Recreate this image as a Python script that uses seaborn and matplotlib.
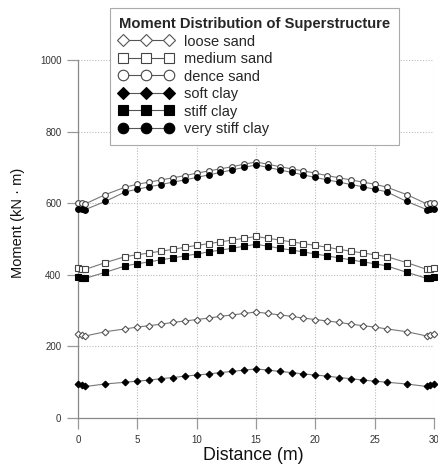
import matplotlib
matplotlib.use("Agg")
import matplotlib.pyplot as plt
import seaborn as sns
import numpy as np

distance = [0, 0.3, 0.6, 2.3, 4, 5, 6, 7, 8, 9, 10, 11, 12, 13, 14, 15,
            16, 17, 18, 19, 20, 21, 22, 23, 24, 25, 26, 27.7, 29.4, 29.7, 30]

loose_sand = [234, 231, 229, 241, 249, 254, 258, 262, 267, 271, 275, 279, 284, 288, 292, 296,
              292, 288, 284, 279, 275, 271, 267, 262, 258, 254, 249, 241, 229, 231, 234]
medium_sand = [419, 417, 415, 434, 451, 456, 461, 466, 471, 477, 482, 487, 492, 497, 502, 507,
               502, 497, 492, 487, 482, 477, 471, 466, 461, 456, 451, 434, 415, 417, 419]
dence_sand = [601, 600, 598, 624, 645, 653, 659, 665, 671, 677, 684, 690, 696, 702, 709, 715,
              709, 702, 696, 690, 684, 677, 671, 665, 659, 653, 645, 624, 598, 600, 601]
soft_clay = [94, 91, 88, 95, 100, 103, 106, 110, 113, 117, 120, 123, 127, 130, 134, 137,
             134, 130, 127, 123, 120, 117, 113, 110, 106, 103, 100, 95, 88, 91, 94]
stiff_clay = [393, 391, 390, 407, 425, 431, 436, 442, 447, 453, 458, 464, 469, 474, 480, 485,
              480, 474, 469, 464, 458, 453, 447, 442, 436, 431, 425, 407, 390, 391, 393]
very_stiff_clay = [585, 583, 582, 605, 632, 639, 646, 652, 659, 665, 672, 679, 686, 693, 700, 707,
                   700, 693, 686, 679, 672, 665, 659, 652, 646, 639, 632, 605, 582, 583, 585]

series_names = ["loose sand", "medium sand", "dence sand", "soft clay", "stiff clay", "very stiff clay"]
series_values = [loose_sand, medium_sand, dence_sand, soft_clay, stiff_clay, very_stiff_clay]
x_ticks = [0, 5, 10, 15, 20, 25, 30]
y_ticks = [0, 200, 400, 600, 800, 1000]

sns.set_theme(style="white")
plt.rcParams['font.family'] = ['Liberation Sans', 'DejaVu Sans']

fig = plt.figure(figsize=(4.39, 4.66), dpi=100)
ax = fig.add_axes([78 / 439, 48 / 466, (434 - 78) / 439, (418 - 60) / 466])

styles = [
    dict(marker="D", markerfacecolor="white", markeredgecolor="#555555", markersize=3.4),
    dict(marker="s", markerfacecolor="white", markeredgecolor="#444444", markersize=3.8),
    dict(marker="o", markerfacecolor="white", markeredgecolor="#444444", markersize=4.1),
    dict(marker="D", markerfacecolor="black", markeredgecolor="black", markersize=3.4),
    dict(marker="s", markerfacecolor="black", markeredgecolor="black", markersize=3.8),
    dict(marker="o", markerfacecolor="black", markeredgecolor="black", markersize=4.1),
]

for name, vals, st in zip(series_names, series_values, styles):
    sns.lineplot(x=distance, y=vals, ax=ax, color="#777777", linewidth=0.8,
                 markeredgewidth=0.8, clip_on=False, label=name, zorder=3, **st)

ax.set_xlim(0, 30)
ax.set_ylim(0, 1000)
ax.set_xticks(x_ticks)
ax.set_yticks(y_ticks)
ax.grid(True, linestyle=(0, (1, 1.5)), color="#bbbbbb", linewidth=0.8)
for side in ["top", "right"]:
    ax.spines[side].set_visible(False)
for side in ["left", "bottom"]:
    ax.spines[side].set_color("#888888")
    ax.spines[side].set_linewidth(0.9)
ax.tick_params(axis="both", direction="out", length=8, width=0.9, color="#999999",
               labelsize=7, labelcolor="#333333", pad=4)
ax.tick_params(left=True, bottom=True)
ax.set_xlabel("")
ax.set_ylabel("")

fig.text(18 / 439, 1 - 223 / 466, "Moment (kN · m)", rotation=90, ha="center", va="center",
         fontsize=10.5, color="#111111")
fig.text(253 / 439, 1 - 455 / 466, "Distance (m)", ha="center", va="center",
         fontsize=12.8, color="#111111")

leg = ax.legend(loc="upper left", bbox_to_anchor=(110 / 439, 1 - 8 / 466),
                bbox_transform=fig.transFigure, borderaxespad=0,
                title="Moment Distribution of Superstructure",
                title_fontproperties={"weight": "bold", "size": 10.6},
                fontsize=10.5, numpoints=3, markerscale=1.85, handlelength=3.7,
                handletextpad=0.75, labelspacing=0.24, borderpad=0.62,
                fancybox=False, frameon=True, framealpha=1, edgecolor="#aaaaaa")
leg._legend_box.align = "left"
leg.get_frame().set_linewidth(0.8)
for line in leg.get_lines():
    line.set_color("#555555")
    line.set_linewidth(0.8)
leg.set_zorder(10)

fig.savefig("out.png", dpi=100)
